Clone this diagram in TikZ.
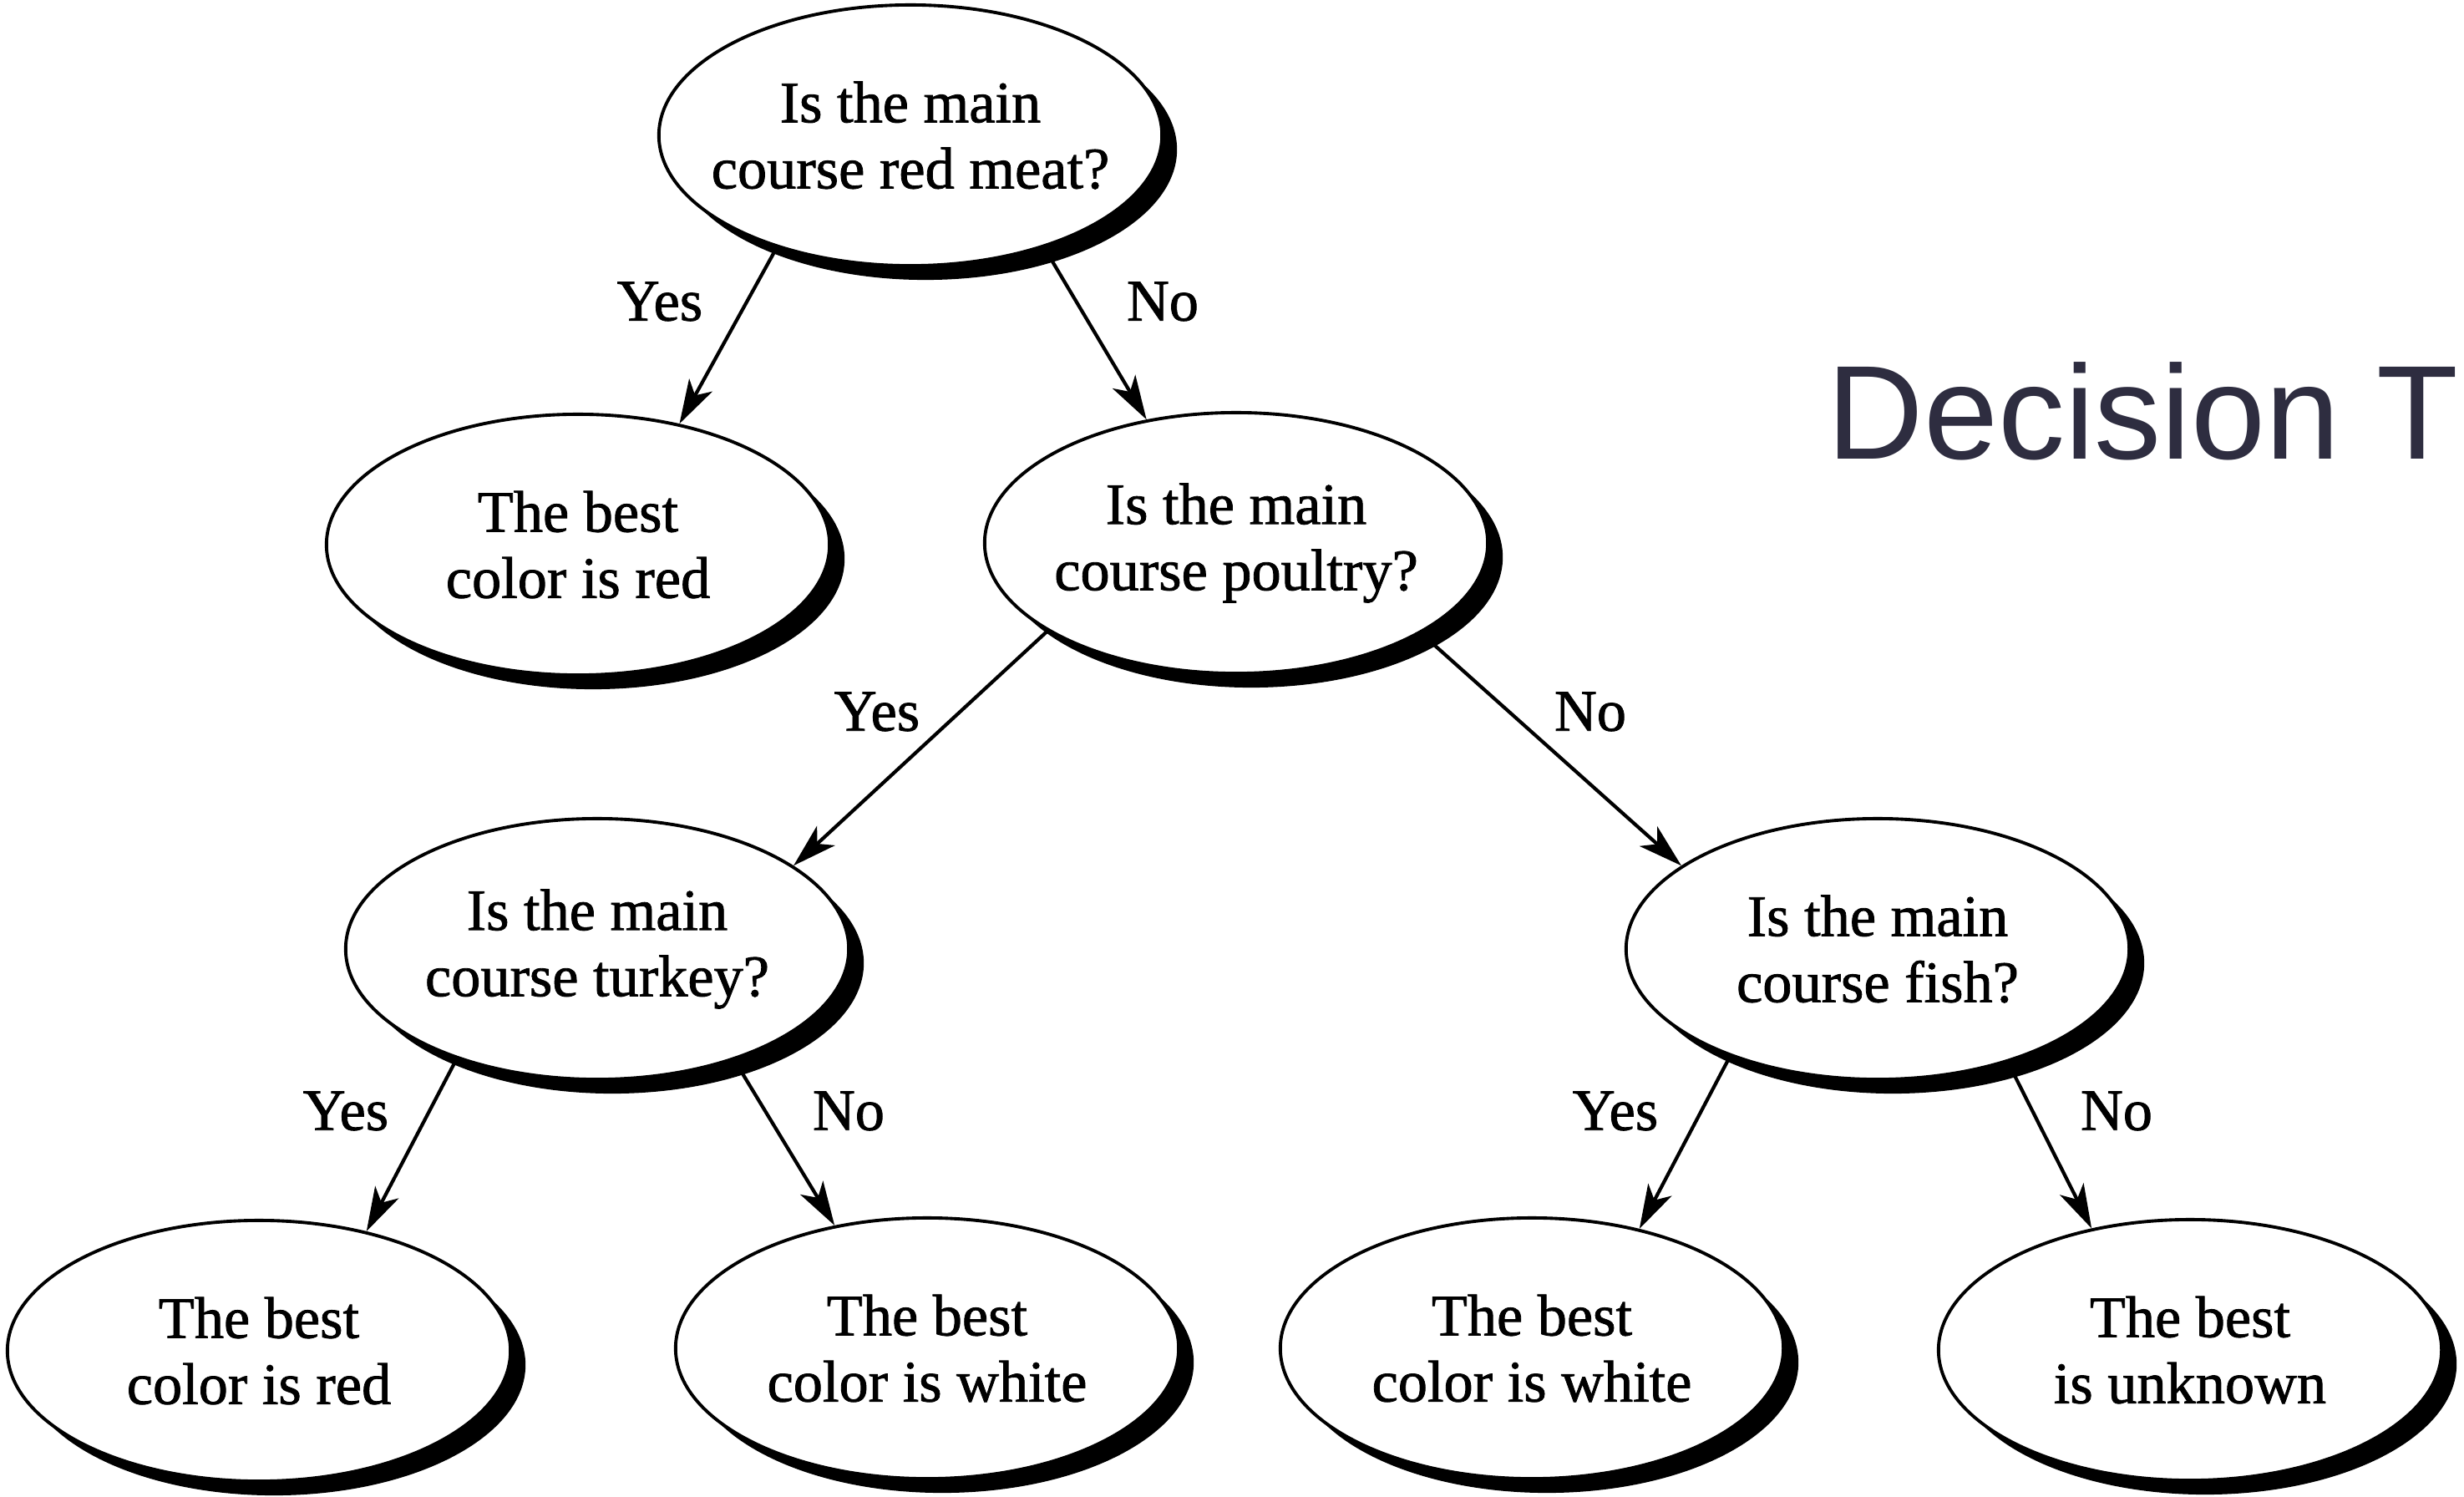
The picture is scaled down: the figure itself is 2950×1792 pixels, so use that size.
\documentclass[tikz,border=0pt]{standalone}
\usepackage{fontspec}
\setmainfont{Liberation Serif}
\newfontfamily\nodefont[FakeBold=1.2]{Liberation Serif}
\newfontfamily\headfont{Liberation Sans}
\usetikzlibrary{shapes.geometric,shadows,arrows.meta}
\definecolor{titlecol}{RGB}{46,45,64}
\begin{document}
\begin{tikzpicture}[x=0.01cm,y=-0.01cm,
  q/.style={ellipse, draw, line width=1.1pt, fill=white,
    minimum width=6.02cm, minimum height=3.12cm,
    inner xsep=-1cm, inner ysep=-0.3cm,
    align=center, font=\nodefont\fontsize{20}{22.5}\selectfont,
    drop shadow={shadow xshift=0.18cm, shadow yshift=-0.17cm,
      fill=black, opacity=1, draw=none}},
  arr/.style={-{Stealth[length=15pt,width=9pt,inset=4pt]}, line width=1.2pt},
  lbl/.style={font=\nodefont\fontsize{20}{22.5}\selectfont, inner sep=0pt}]
\useasboundingbox (0,0) rectangle (2950,1792);
\fill[white] (0,0) rectangle (2950,1792);

% decision nodes and outcomes
\node[q] (root)    at (1090,162)  {Is the main\\course red meat?};
\node[q] (red1)    at (692,652)   {The best\\color is red};
\node[q] (poultry) at (1480,650)  {Is the main\\course poultry?};
\node[q] (turkey)  at (715,1136)  {Is the main\\course turkey?};
\node[q] (fish)    at (2248,1136) {Is the main\\course fish?};
\node[q] (red2)    at (310,1617)  {The best\\color is red};
\node[q] (white1)  at (1110,1614) {The best\\color is white};
\node[q] (white2)  at (1834,1614) {The best\\color is white};
\node[q] (unknown) at (2622,1616) {The best\\is unknown};

% branches
\draw[arr] (root.220)    -- (red1.50);
\draw[arr] (root.320)    -- (poultry.126);
\draw[arr] (poultry.205) -- (turkey.23);
\draw[arr] (poultry.334) -- (fish.157);
\draw[arr] (turkey.218)  -- (red2.48);
\draw[arr] (turkey.321)  -- (white1.127);
\draw[arr] (fish.216)    -- (white2.48);
\draw[arr] (fish.319)    -- (unknown.129);

% branch labels
\node[lbl] (y1) at (790,361)   {Yes};
\node[lbl] (n1) at (1392,361)  {No};
\node[lbl] (y2) at (1050,852)  {Yes};
\node[lbl] (n2) at (1904,852)  {No};
\node[lbl] (y3) at (414,1330)  {Yes};
\node[lbl] (n3) at (1016,1330) {No};
\node[lbl] (y4) at (1934,1330) {Yes};
\node[lbl] (n4) at (2534,1330) {No};

% heading
\node[anchor=base west, inner sep=0pt, text=titlecol,
  font=\headfont\fontsize{45.5}{48}\selectfont] (title) at (2187,550) {Decision T};
\end{tikzpicture}
\end{document}
